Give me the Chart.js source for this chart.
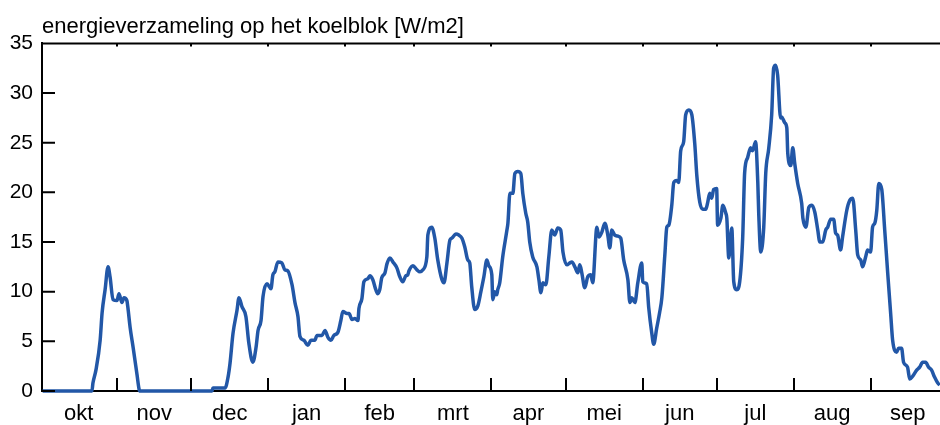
<!DOCTYPE html>
<html>
<head>
<meta charset="utf-8">
<script src="https://cdn.jsdelivr.net/npm/chart.js@4/dist/chart.umd.min.js"></script>
<style>
  body { margin: 0; background: #fff; }
  #wrap { width: 940px; height: 425px; }
</style>
</head>
<body>
<div id="wrap"><canvas id="koelblok"></canvas></div>
<script>
// maanden, dag 0 = 1 oktober
const months = ['okt', 'nov', 'dec', 'jan', 'feb', 'mrt', 'apr', 'mei', 'jun', 'jul', 'aug', 'sep'];
const monthStarts = [0, 31, 61, 92, 123, 151, 182, 212, 243, 273, 304, 335, 365];

// dagnummer en energieverzameling [W/m2]
const days = [
    1, 20.9, 21.3, 22.5, 24.2, 25.0, 26.2, 27.4, 28.2, 29.4, 31.0, 31.8, 33.0, 33.8, 35.0, 35.4, 36.3, 37.5, 39.1, 39.9, 40.3,
    69.3, 69.7, 74.6, 75.8, 76.6, 77.8, 79.4, 80.2, 81.4, 83.0, 84.2, 85.8, 87.1, 87.9, 89.1, 89.9, 91.5,
    93.1, 93.9, 94.7, 95.9, 97.5, 98.7, 99.9, 101.6, 102.8, 104.0, 104.8, 106.4, 108.0, 109.2, 110.8, 111.7, 113.7, 114.9, 116.1, 117.3, 118.5, 120.1, 121.3, 122.1,
    123.8, 124.6, 125.8, 127.0, 128.2, 128.6, 129.8, 130.6, 132.2, 133.0, 134.2, 135.4, 136.2, 137.0, 137.8, 139.1, 139.9, 141.1, 142.3, 143.9, 145.1, 146.3, 147.5, 148.3, 148.8, 150.4,
    152.0, 153.2, 154.4, 156.0, 156.4, 158.0, 159.2, 160.4, 162.1, 162.9, 164.1, 165.3, 166.1, 167.7, 168.9, 170.1, 171.3, 172.5, 173.3, 174.1, 175.3, 176.6, 177.8, 179.0, 180.2, 181.0,
    182.2, 182.6, 183.4, 184.2, 184.6, 185.4, 186.6, 188.3, 188.7, 189.5, 190.7, 191.5, 192.7, 193.9, 194.7, 195.9, 196.7, 197.5, 198.7, 200.4, 201.2, 202.0, 202.8, 204.0, 205.2, 206.4, 207.6, 208.8, 210.0, 210.9,
    212.5, 213.7, 214.5, 215.7, 216.9, 217.7, 218.5, 219.7, 220.9, 222.1, 222.9, 224.6, 225.4, 226.6, 227.8, 229.0, 229.8, 230.6, 231.8, 233.0, 234.2, 235.4, 237.1, 237.9, 238.7, 239.9, 241.1, 242.7,
    243.1, 244.7, 245.5, 246.7, 247.5, 248.7, 249.9, 250.8, 252.0, 252.8, 253.6, 254.8, 255.6, 256.8, 257.6, 258.4, 259.6, 260.4, 261.7, 262.9, 264.1, 264.9, 266.1, 267.3, 268.5, 269.3, 270.1, 270.9, 271.7, 272.9,
    273.3, 274.6, 275.4, 276.6, 277.0, 277.8, 279.0, 279.8, 281.0, 282.2, 283.4, 284.2, 285.4, 286.6, 287.4, 288.6, 289.5, 289.9, 290.7, 291.9, 292.7, 293.9, 295.1, 295.9, 296.7, 297.5, 298.7, 299.1, 300.4, 301.2, 301.6, 302.8, 303.6,
    304.4, 305.6, 307.2, 307.7, 308.9, 310.1, 311.3, 312.5, 313.7, 314.5, 315.7, 316.9, 317.7, 318.9, 320.1, 320.9, 321.7, 322.9, 323.7, 325.4, 326.6, 327.8, 329.0, 329.8, 331.0, 331.8, 333.0, 333.8,
    335.0, 335.8, 336.7, 337.5, 338.3, 339.5, 340.7, 341.9, 343.1, 343.9, 345.5, 346.3, 347.5, 348.3, 349.9, 350.8, 352.0, 353.6, 354.8, 356.0, 357.2, 358.4, 359.6, 360.8, 362.1, 362.9
];
const values = [
    0, 0, 0.8, 2.1, 5.1, 7.9, 10.2, 12.5, 11.5, 9.2, 9.1, 9.8, 8.9, 9.4, 9.1, 8.4, 6.4, 4.4, 1.6, 0.2, 0,
    0, 0.3, 0.3, 1.4, 2.8, 5.8, 8.1, 9.4, 8.5, 7.5, 4.8, 2.9, 4.4, 6.1, 7.1, 9.5, 10.8,
    10.3, 11.7, 12.0, 13.0, 12.9, 12.2, 12.1, 10.7, 8.9, 7.5, 5.5, 5.1, 4.6, 5.1, 5.1, 5.6, 5.6, 6.1, 5.4, 5.1, 5.6, 5.9, 7.1, 8.0,
    7.8, 7.8, 7.2, 7.3, 7.1, 8.3, 9.3, 11.0, 11.3, 11.6, 11.2, 10.2, 9.8, 10.2, 11.4, 11.9, 12.8, 13.4, 13.0, 12.4, 11.5, 11.0, 11.6, 11.7, 12.1, 12.6,
    12.2, 12.0, 12.2, 13.5, 15.7, 16.5, 15.4, 13.2, 11.2, 10.9, 12.9, 15.2, 15.4, 15.8, 15.7, 15.4, 14.5, 13.2, 12.9, 10.5, 8.2, 8.6, 10.0, 11.5, 13.2, 12.6,
    11.7, 9.2, 10.0, 9.7, 10.2, 10.9, 13.5, 16.2, 16.9, 19.9, 19.9, 21.9, 22.1, 21.9, 19.9, 17.9, 17.0, 15.0, 13.5, 12.5, 11.2, 9.9, 10.9, 10.7, 13.5, 16.2, 15.7, 16.4, 16.2, 14.0,
    12.7, 12.9, 13.0, 12.5, 11.9, 12.7, 11.9, 10.4, 11.5, 11.7, 10.9, 16.5, 15.5, 16.0, 16.9, 15.7, 14.4, 16.2, 15.7, 15.6, 15.4, 13.2, 11.2, 8.9, 9.4, 8.9, 10.9, 12.9,
    11.0, 10.8, 8.4, 5.9, 4.7, 6.3, 7.9, 9.4, 13.7, 16.5, 16.7, 18.7, 21.0, 21.2, 21.0, 24.2, 25.1, 27.8, 28.3, 27.8, 24.8, 21.7, 19.0, 18.3, 18.3, 19.0, 19.9, 19.4, 20.3, 20.4,
    16.7, 17.4, 18.7, 17.9, 17.4, 13.4, 16.4, 11.0, 10.2, 11.0, 15.4, 22.0, 23.5, 24.5, 24.2, 25.1, 21.0, 17.7, 14.0, 16.5, 21.9, 24.4, 27.8, 32.5, 32.8, 31.8, 27.5, 27.6, 27.0, 26.5, 23.9, 22.7, 24.5,
    22.9, 20.9, 18.9, 17.4, 16.5, 18.5, 18.7, 18.0, 16.2, 15.0, 15.0, 16.2, 16.5, 17.3, 17.3, 15.9, 15.7, 14.2, 15.5, 18.2, 19.2, 19.4, 16.2, 13.7, 13.2, 12.5, 13.5, 14.2,
    14.0, 16.5, 16.9, 18.2, 20.9, 20.3, 16.2, 11.9, 7.8, 5.1, 3.9, 4.3, 4.3, 2.9, 2.4, 1.2, 1.5, 2.1, 2.4, 2.9, 2.9, 2.4, 2.1, 1.4, 0.8, 0.6
];

const monthMids = months.map((m, i) => (monthStarts[i] + monthStarts[i + 1]) / 2);
const font = { family: '"Liberation Sans", Arial, sans-serif', size: 21 };

// kleine tickstreepjes naar binnen, zoals in het origineel
const frameTicks = {
    id: 'frameTicks',
    afterDatasetsDraw(chart) {
        const { ctx, chartArea: a, scales: { x, y } } = chart;
        ctx.save();
        ctx.strokeStyle = '#000';
        ctx.lineWidth = 2;
        ctx.beginPath();
        ctx.moveTo(a.left - 1, a.top);
        ctx.lineTo(a.right, a.top);
        y.ticks.forEach(t => {
            const py = y.getPixelForValue(t.value);
            ctx.moveTo(a.left, py);
            ctx.lineTo(a.left + 13, py);
        });
        monthStarts.slice(1, -1).forEach(d => {
            const px = Math.round(x.getPixelForValue(d));
            ctx.moveTo(px, a.bottom);
            ctx.lineTo(px, a.bottom - 13);
            ctx.moveTo(px, a.top);
            ctx.lineTo(px, a.top + 3);
        });
        ctx.stroke();
        ctx.restore();
    }
};

new Chart(document.getElementById('koelblok'), {
    type: 'line',
    data: {
        datasets: [{
            label: 'energieverzameling',
            data: days.map((d, i) => ({ x: d, y: values[i] })),
            borderColor: '#2257a7',
            borderWidth: 3.5,
            pointRadius: 0,
            cubicInterpolationMode: 'monotone',
            clip: false
        }]
    },
    options: {
        responsive: true,
        maintainAspectRatio: false,
        animation: false,
        layout: { padding: { left: 0, right: 0, top: 0, bottom: 0 } },
        plugins: {
            legend: { display: false },
            tooltip: { enabled: false },
            title: {
                display: true,
                text: 'energieverzameling op het koelblok [W/m2]',
                align: 'start',
                fullSize: false,
                color: '#000',
                font: { ...font, size: 22, weight: 'normal' },
                padding: { top: 14, bottom: 3 }
            }
        },
        scales: {
            x: {
                type: 'linear',
                min: 0.75,
                max: 363,
                afterBuildTicks: s => { s.ticks = monthMids.map(v => ({ value: v })); },
                afterFit: s => { s.height = 34; },
                ticks: {
                    autoSkip: false,
                    maxRotation: 0,
                    color: '#000',
                    font: { ...font, size: 22 },
                    padding: 10,
                    callback: (v, i) => months[i]
                },
                grid: { display: false, drawTicks: false },
                border: { display: true, color: '#000', width: 2 }
            },
            y: {
                min: 0,
                max: 35,
                afterFit: s => { s.width = 42; },
                ticks: { stepSize: 5, color: '#000', font: font, padding: 9 },
                grid: { display: false, drawTicks: false },
                border: { display: true, color: '#000', width: 2 }
            }
        }
    },
    plugins: [frameTicks]
});
</script>
</body>
</html>
